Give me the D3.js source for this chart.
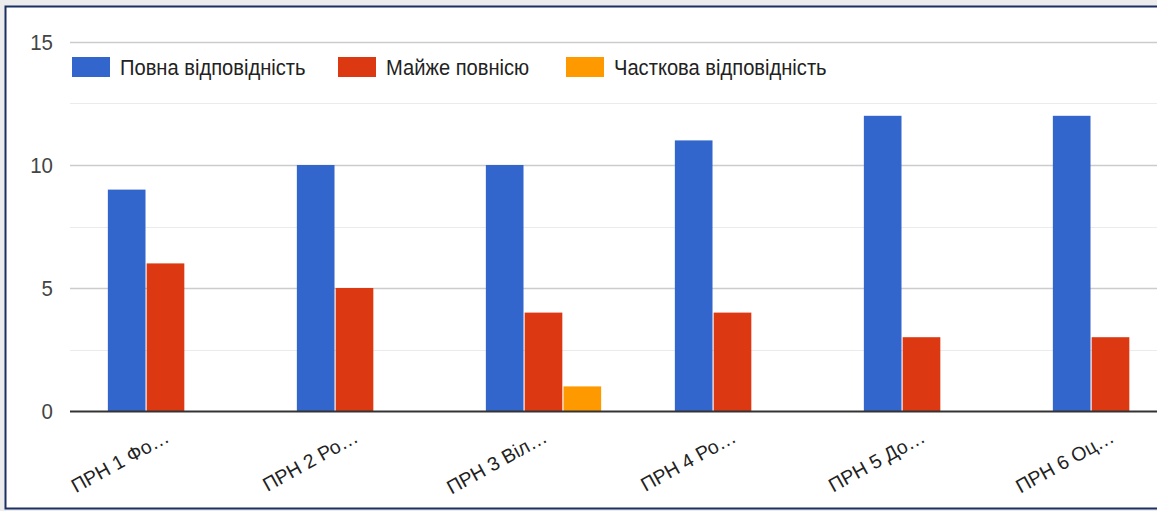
<!DOCTYPE html>
<html>
<head>
<meta charset="utf-8">
<script src="https://cdn.jsdelivr.net/npm/d3@7"></script>
<style>
  html, body { margin: 0; padding: 0; background: #ececec; overflow: hidden; }
  svg { display: block; }
  text { font-family: "Liberation Sans", Arial, sans-serif; }
</style>
</head>
<body>
<svg id="chart" width="1157" height="511"></svg>
<script>
const categories = ["ПРН 1 Фо…", "ПРН 2 Ро…", "ПРН 3 Віл…", "ПРН 4 Ро…", "ПРН 5 До…", "ПРН 6 Оц…"];
const seriesNames = ["Повна відповідність", "Майже повнісю", "Часткова відповідність"];
const fullValues = [9, 10, 10, 11, 12, 12];
const almostValues = [6, 5, 4, 4, 3, 3];
const partialValues = [0, 0, 1, 0, 0, 0];
const yTicks = [0, 5, 10, 15];
const yGrid = [0, 2.5, 5, 7.5, 10, 12.5, 15];
const colors = ["#3366cc", "#dc3912", "#ff9900"];

const seriesValues = [fullValues, almostValues, partialValues];

const svg = d3.select("#chart");

// panel background and frame
svg.append("rect").attr("x", 5).attr("y", 6).attr("width", 1160).attr("height", 502)
  .attr("fill", "#ffffff");
svg.append("path")
  .attr("d", "M1160,6.5 H5.5 V508.5 H1160")
  .attr("fill", "none").attr("stroke", "#1c2f63").attr("stroke-width", 2);

const y = d3.scaleLinear().domain([0, 15]).range([411, 42]);
const x0 = d3.scaleBand().domain(categories).range([71, 1205]).paddingInner(0.39).paddingOuter(0.195);
const x1 = d3.scaleBand().domain(seriesNames).range([0, x0.bandwidth()]).paddingInner(0.03);

const plotLeft = 70, plotRight = 1157;

// gridlines
svg.append("g").selectAll("line").data(yGrid.filter(d => d !== 0)).join("line")
  .attr("x1", plotLeft).attr("x2", plotRight)
  .attr("y1", d => Math.round(y(d)) + 0.5).attr("y2", d => Math.round(y(d)) + 0.5)
  .attr("stroke", d => d % 5 === 0 ? "#cccccc" : "#ebebeb").attr("stroke-width", d => d % 5 === 0 ? 1.5 : 1);

// y axis labels
const yAxis = d3.axisLeft(y).tickValues(yTicks).tickSize(0).tickPadding(0).tickFormat(d3.format("d"));
const gy = svg.append("g").attr("transform", "translate(53,0)").call(yAxis);
gy.select(".domain").remove();
gy.selectAll("text").attr("font-size", 22).attr("fill", "#444")
  .attr("font-family", "Liberation Sans, Arial, sans-serif")
  .attr("transform", "scale(0.93,1)");

// bars
const groups = svg.append("g").selectAll("g").data(categories).join("g")
  .attr("transform", d => `translate(${x0(d)},0)`);
groups.selectAll("rect").data((c, i) => seriesNames.map((s, k) => ({ s, k, v: seriesValues[k][i] })))
  .join("rect")
  .attr("x", d => x1(d.s))
  .attr("width", x1.bandwidth())
  .attr("y", d => y(d.v))
  .attr("height", d => y(0) - y(d.v))
  .attr("fill", d => colors[d.k]);

// baseline axis
const xAxis = d3.axisBottom(x0).tickSize(0).tickPadding(0);
const gx = svg.append("g").attr("transform", `translate(0,${y(0)})`).call(xAxis);
gx.select(".domain").remove();
svg.append("line").attr("x1", plotLeft).attr("x2", plotRight)
  .attr("y1", y(0) + 0.5).attr("y2", y(0) + 0.5)
  .attr("stroke", "#333").attr("stroke-width", 2);
gx.selectAll(".tick text")
  .attr("font-size", 19.5).attr("fill", "#222")
  .attr("font-family", "Liberation Sans, Arial, sans-serif")
  .attr("text-anchor", "end")
  .attr("y", 0)
  .attr("dy", 0)
  .attr("transform", "translate(5,30) rotate(-29)");

// legend
const legendX = [72, 338, 566];
const legend = svg.append("g").selectAll("g").data(seriesNames).join("g")
  .attr("transform", (d, i) => `translate(${legendX[i]},57)`);
legend.append("rect").attr("width", 38).attr("height", 20).attr("fill", (d, i) => colors[i]);
legend.append("text").attr("font-size", 22).attr("fill", "#222")
  .attr("transform", "translate(48,18) scale(0.915,1)")
  .text(d => d);
</script>
</body>
</html>
